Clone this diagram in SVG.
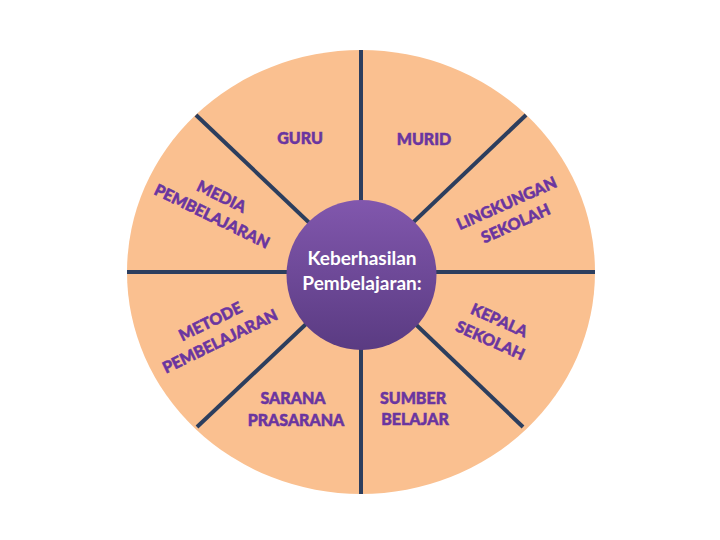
<svg xmlns="http://www.w3.org/2000/svg" width="720" height="540" viewBox="0 0 720 540">
<defs>
<linearGradient id="hub" x1="0" y1="0" x2="0" y2="1">
<stop offset="0" stop-color="#8157ad"/>
<stop offset="1" stop-color="#5a3b82"/>
</linearGradient>
<style>
.lbl{font-family:Lato,"Open Sans","Liberation Sans",sans-serif;font-weight:900;font-size:16px;fill:#6a35a0;stroke:#6a35a0;stroke-width:0.5;text-anchor:middle}
.hubt{font-family:Lato,"Open Sans","Liberation Sans",sans-serif;font-weight:bold;font-size:19px;fill:#ffffff;text-anchor:middle}
.spoke{stroke:#2c3e5e;stroke-width:4;fill:none}
</style>
</defs>
<rect width="720" height="540" fill="#ffffff"/>
<ellipse cx="361" cy="272" rx="234" ry="222" fill="#fac090"/>
<g id="connectors">
<line class="spoke" x1="361" y1="50" x2="361" y2="494"/>
<line class="spoke" x1="127" y1="272" x2="595" y2="272"/>
<line class="spoke" x1="196" y1="115" x2="361" y2="272"/>
<line class="spoke" x1="526" y1="115" x2="361" y2="272"/>
<line class="spoke" x1="197" y1="427" x2="361" y2="272"/>
<line class="spoke" x1="523" y1="427" x2="361" y2="272"/>
</g>
<g id="hub-node">
<circle cx="361.5" cy="275" r="75" fill="url(#hub)"/>
<text class="hubt" x="362" y="265">Keberhasilan</text>
<text class="hubt" x="362" y="290">Pembelajaran:</text>
</g>
<g id="guru"><text class="lbl" x="300" y="144">GURU</text></g>
<g id="murid"><text class="lbl" x="424" y="145">MURID</text></g>
<g id="sarana"><text class="lbl" x="293" y="404">SARANA</text><text class="lbl" x="296" y="426">PRASARANA</text></g>
<g id="sumber"><text class="lbl" x="413" y="404">SUMBER</text><text class="lbl" x="415" y="425">BELAJAR</text></g>
<g id="media" transform="translate(217,206) rotate(26)"><text class="lbl" x="0" y="-5">MEDIA</text><text class="lbl" x="0" y="17">PEMBELAJARAN</text></g>
<g id="lingkungan" transform="translate(511,213) rotate(-24)"><text class="lbl" x="0" y="-5">LINGKUNGAN</text><text class="lbl" x="0" y="17">SEKOLAH</text></g>
<g id="metode" transform="translate(215,331) rotate(-26)"><text class="lbl" x="0" y="-5">METODE</text><text class="lbl" x="0" y="17">PEMBELAJARAN</text></g>
<g id="kepala" transform="translate(495,330) rotate(24)"><text class="lbl" x="0" y="-5">KEPALA</text><text class="lbl" x="0" y="17">SEKOLAH</text></g>
</svg>
